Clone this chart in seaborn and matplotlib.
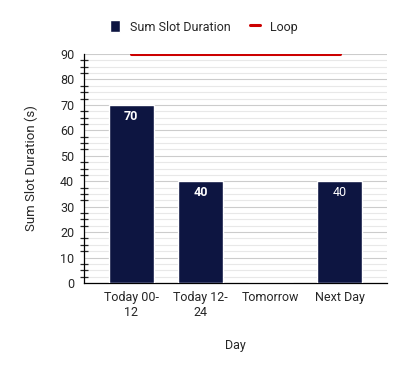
import pandas as pd
import seaborn as sns
import matplotlib.pyplot as plt
from matplotlib.ticker import MultipleLocator

days = ['Today 00-\n12', 'Today 12-\n24', 'Tomorrow', 'Next Day']
slot_duration = [70, 40, 0, 40]
loop = [90, 90, 90, 90]
label_bold = [True, True, False, False]

df = pd.DataFrame({'Day': days, 'Sum Slot Duration': slot_duration, 'Loop': loop})

sns.set_style('white')
plt.rcParams['font.family'] = ['Roboto', 'DejaVu Sans']

fig = plt.figure(figsize=(4.05, 3.71), dpi=100)
ax = fig.add_axes([0.2074, 0.2372, 0.7482, 0.6172])

sns.barplot(data=df, x='Day', y='Sum Slot Duration', color='#0d1541', width=0.65,
            saturation=1, ax=ax, label='Sum Slot Duration', zorder=3)
ax.plot(df['Day'], df['Loop'], color='#cc0000', lw=2.2, label='Loop', zorder=4)

container = ax.containers[0]
for bar, val, bold in zip(container, slot_duration, label_bold):
    if val <= 0:
        continue
    ax.text(bar.get_x() + bar.get_width() / 2, val - 4.4, str(val), ha='center', va='center',
            color='white', fontsize=9, fontweight='bold' if bold else 'normal', zorder=5)

ax.set_xlim(-0.68, 3.68)
ax.set_ylim(0, 90)
ax.yaxis.set_major_locator(MultipleLocator(10))
ax.yaxis.set_minor_locator(MultipleLocator(2.5))
ax.grid(axis='y', which='major', color='#cccccc', lw=0.8, zorder=0)
ax.grid(axis='y', which='minor', color='#e8e8e8', lw=0.8, zorder=0)
ax.set_axisbelow(True)
for side in ['top', 'right']:
    ax.spines[side].set_visible(False)
for side in ['left', 'bottom']:
    ax.spines[side].set_color('black')
    ax.spines[side].set_linewidth(0.9)
ax.tick_params(axis='y', which='major', direction='inout', length=10, width=0.9, labelsize=9, pad=2)
ax.tick_params(axis='y', which='minor', direction='inout', length=6, width=0.9, left=True)
ax.tick_params(axis='x', length=0, labelsize=9, pad=6)
ax.set_xlabel('Day', fontsize=9, labelpad=14)
ax.set_ylabel('Sum Slot Duration (s)', fontsize=9.5, labelpad=16)

handles, labels = ax.get_legend_handles_labels()
order = [labels.index('Sum Slot Duration'), labels.index('Loop')]
ax.legend([handles[i] for i in order], [labels[i] for i in order],
          loc='lower center', bbox_to_anchor=(0.395, 1.04), ncol=2, frameon=False, fontsize=9,
          handlelength=0.8, handleheight=1.1, handletextpad=0.8, columnspacing=1.5)

fig.savefig('out.png', dpi=100)
